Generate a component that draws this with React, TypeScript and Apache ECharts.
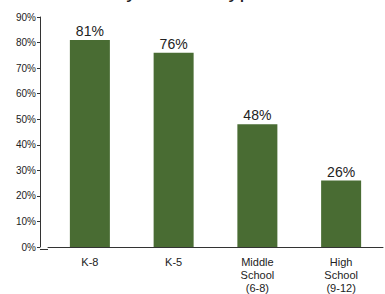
import React, { useEffect, useRef } from "react";
import * as echarts from "echarts";

const categories = ["K-8", "K-5", "Middle\nSchool\n(6-8)", "High\nSchool\n(9-12)"];
const values = [81, 76, 48, 26];
const titleText = "by School Type";

export default function App() {
  const ref = useRef<HTMLDivElement>(null);
  useEffect(() => {
    if (!ref.current) return;
    const chart = echarts.init(ref.current, null, { renderer: "svg" });
    const font = "Liberation Sans, Arial, sans-serif";
    chart.setOption({
      animation: false,
      title: {
        text: titleText,
        left: 109,
        top: -27,
        textStyle: { fontFamily: font, fontSize: 22, fontWeight: "normal", color: "#222" },
      },
      grid: { left: 48, right: 2, top: 17, bottom: 45 },
      xAxis: {
        type: "category",
        data: categories,
        axisLine: { lineStyle: { color: "#333", width: 1 } },
        axisTick: { show: false },
        axisLabel: { fontFamily: font, fontSize: 11, color: "#222", lineHeight: 13, margin: 8 },
      },
      yAxis: {
        type: "value",
        min: 0,
        max: 90,
        interval: 10,
        offset: 8,
        axisLine: { show: true, lineStyle: { color: "#333", width: 1 } },
        axisTick: { show: true, length: 3, lineStyle: { color: "#333" } },
        splitLine: { show: false },
        axisLabel: { fontFamily: font, fontSize: 10, color: "#222", formatter: "{value}%", margin: 4 },
      },
      graphic: [
        { type: "line", shape: { x1: 40, y1: 249.5, x2: 48, y2: 249.5 }, style: { stroke: "#333", lineWidth: 1 } },
      ],
      series: [
        {
          type: "bar",
          data: values,
          barWidth: 40,
          itemStyle: { color: "#496c33" },
          label: {
            show: true,
            position: "top",
            formatter: "{c}%",
            fontFamily: font,
            fontSize: 14,
            color: "#222",
            distance: 2,
          },
        },
      ],
    });
    return () => chart.dispose();
  }, []);
  return <div ref={ref} style={{ width: 385, height: 294, position: "absolute", left: 0, top: 0 }} />;
}
